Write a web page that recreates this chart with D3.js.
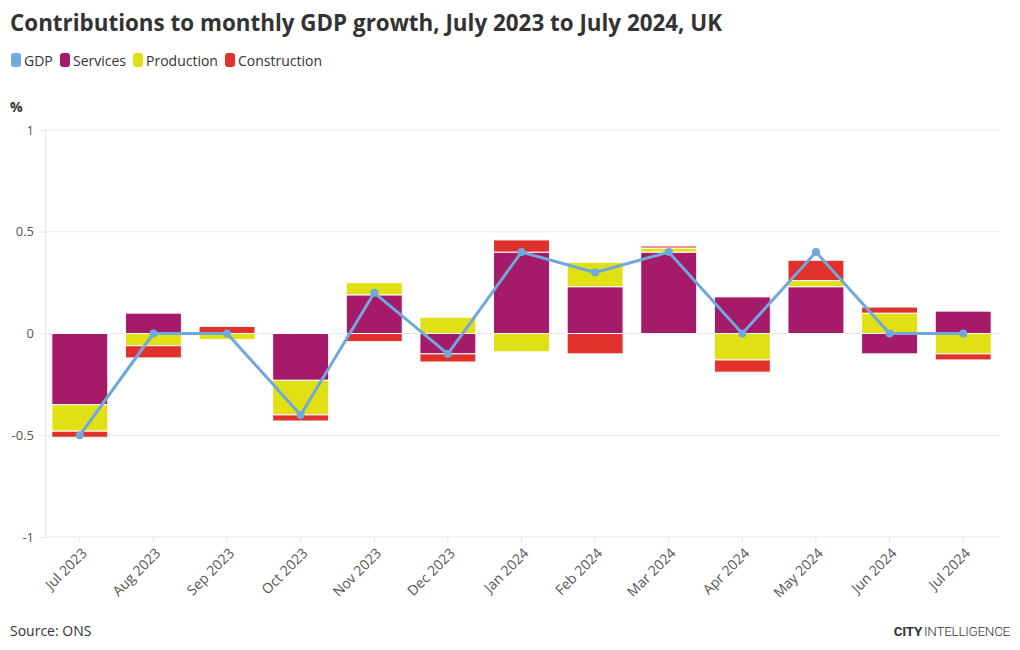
<!DOCTYPE html>
<html>
<head>
<meta charset="utf-8">
<script src="https://cdn.jsdelivr.net/npm/d3@7"></script>
<style>
  html, body { margin: 0; padding: 0; background: #fff; }
  svg { display: block; font-family: "Open Sans", sans-serif; }
</style>
</head>
<body>
<svg id="chart" width="1020" height="650"></svg>
<script>
const months = ["Jul 2023","Aug 2023","Sep 2023","Oct 2023","Nov 2023","Dec 2023","Jan 2024","Feb 2024","Mar 2024","Apr 2024","May 2024","Jun 2024","Jul 2024"];
const services     = [-0.35, 0.10, 0.00, -0.23, 0.19, -0.10, 0.40, 0.23, 0.40, 0.18, 0.23, -0.10, 0.11];
const production   = [-0.13, -0.06, -0.03, -0.17, 0.06, 0.08, -0.09, 0.12, 0.02, -0.13, 0.03, 0.10, -0.10];
const construction = [-0.03, -0.06, 0.035, -0.03, -0.04, -0.04, 0.06, -0.10, 0.01, -0.06, 0.10, 0.03, -0.03];
const gdp          = [-0.5, 0.0, 0.0, -0.4, 0.2, -0.1, 0.4, 0.3, 0.4, 0.0, 0.4, 0.0, 0.0];
const yTicks = [-1, -0.5, 0, 0.5, 1];
const seriesNames = ["Services","Production","Construction"];
const colors = {GDP: "#6fa8dc", Services: "#a51a69", Production: "#e0e015", Construction: "#e0312c"};

const svg = d3.select("#chart");
const x = d3.scaleBand().domain(months).range([43, 1000]).paddingInner(0.24).paddingOuter(0.12);
const y = d3.scaleLinear().domain([-1, 1]).range([537, 130]);

// title
svg.append("text").attr("x", 10).attr("y", 31)
  .attr("font-size", 22.4).attr("font-weight", 700).attr("fill", "#333")
  .text("Contributions to monthly GDP growth, July 2023 to July 2024, UK");

// legend
const legendItems = ["GDP","Services","Production","Construction"];
const legendX = [11, 60, 133, 225];
legendItems.forEach((name, i) => {
  const g = svg.append("g").attr("transform", `translate(${legendX[i]},53)`);
  g.append("rect").attr("width", 10).attr("height", 14).attr("rx", 3).attr("fill", colors[name]);
  g.append("text").attr("x", 13).attr("y", 12.5).attr("font-size", 14).attr("fill", "#333").text(name);
});

// % label
svg.append("text").attr("x", 10).attr("y", 112).attr("font-size", 14).attr("font-weight", 700).attr("fill", "#333").text("%");

// y grid & axis
const yAxis = d3.axisLeft(y).tickValues(yTicks).tickSize(6).tickPadding(5).tickFormat(d => d === 0 ? "0" : String(d));
const yg = svg.append("g").attr("transform", "translate(45,0)").call(yAxis);
yg.select(".domain").attr("stroke", "#e6e6e6");
yg.selectAll(".tick line").attr("stroke", "#e6e6e6");
yg.selectAll(".tick text").attr("font-size", 13).attr("fill", "#555").attr("font-family", "Open Sans, sans-serif");
svg.append("g").selectAll("line").data(yTicks).join("line")
  .attr("x1", 45).attr("x2", 1000).attr("y1", d => y(d)).attr("y2", d => y(d))
  .attr("stroke", "#e8e8e8").attr("stroke-width", 1);

// x axis
const xAxis = d3.axisBottom(x).tickSize(6).tickPadding(4);
const xg = svg.append("g").attr("transform", `translate(0,${y(-1)})`).call(xAxis);
xg.select(".domain").remove();
xg.selectAll(".tick line").attr("stroke", "#e6e6e6");
xg.selectAll(".tick text").attr("font-size", 14).attr("fill", "#555").attr("font-family", "Open Sans, sans-serif")
  .attr("text-anchor", "end").attr("transform", "translate(-5,4) rotate(-45)").attr("dy", "0.6em");

// stacked diverging bars
const rows = months.map((m, i) => ({month: m, Services: services[i], Production: production[i], Construction: construction[i]}));
const stack = d3.stack().keys(seriesNames).offset(d3.stackOffsetDiverging);
const layers = stack(rows);
const barG = svg.append("g");
layers.forEach(layer => {
  barG.append("g").selectAll("rect").data(layer).join("rect")
    .attr("x", d => x(d.data.month))
    .attr("width", x.bandwidth())
    .attr("y", d => y(Math.max(d[0], d[1])))
    .attr("height", d => Math.abs(y(d[0]) - y(d[1])))
    .attr("fill", colors[layer.key])
    .attr("stroke", "#fff").attr("stroke-width", 1);
});

// GDP line
const line = d3.line().x((d, i) => x(months[i]) + x.bandwidth() / 2).y(d => y(d));
svg.append("path").datum(gdp).attr("d", line).attr("fill", "none")
  .attr("stroke", colors.GDP).attr("stroke-width", 3).attr("stroke-linejoin", "round");
svg.append("g").selectAll("circle").data(gdp).join("circle")
  .attr("cx", (d, i) => x(months[i]) + x.bandwidth() / 2).attr("cy", d => y(d)).attr("r", 4)
  .attr("fill", colors.GDP);

// footer
svg.append("text").attr("x", 10).attr("y", 636).attr("font-size", 14).attr("fill", "#333").text("Source: ONS");
const logo = svg.append("text").attr("x", 1010).attr("y", 636).attr("text-anchor", "end")
  .attr("font-size", 13.5).attr("fill", "#333").attr("font-family", "Roboto, sans-serif")
  .attr("letter-spacing", -0.3);
logo.append("tspan").attr("font-weight", 700).text("CITY");
logo.append("tspan").attr("font-weight", 300).attr("dx", 2).text("INTELLIGENCE");
</script>
</body>
</html>
